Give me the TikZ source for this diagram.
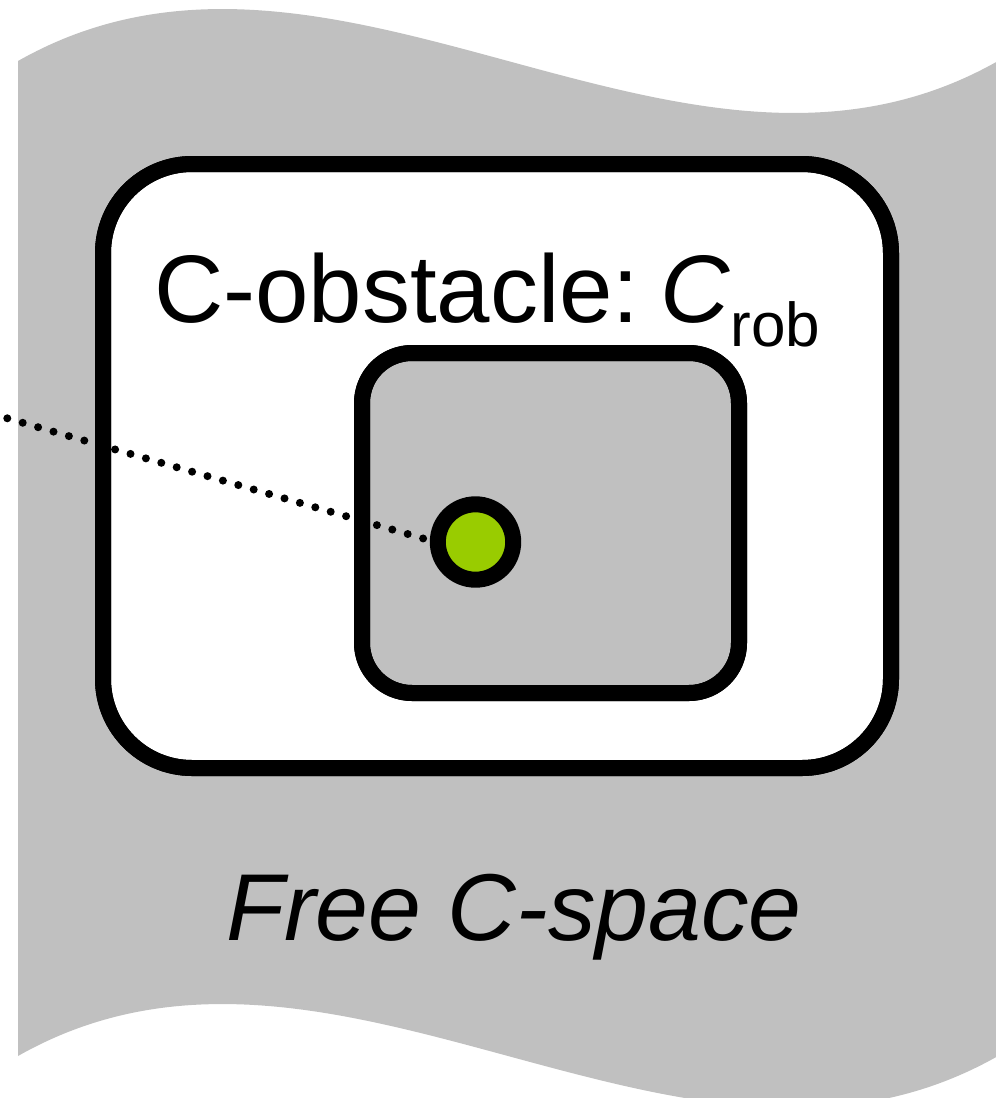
\documentclass[tikz,border=0pt]{standalone}
\usepackage{fontspec}
\setmainfont{Liberation Sans}
\definecolor{bggray}{RGB}{192,192,192}
\definecolor{dotgreen}{RGB}{153,204,0}
\begin{document}
\begin{tikzpicture}[x=1pt,y=-1pt,
  region/.style={draw=black, line width=16pt, rounded corners=#1, inner sep=0pt, outer sep=0pt},
  dotline/.style={line width=8pt, line cap=round, dash pattern=on 0pt off 16.03pt},
  label/.style={inner sep=0pt, outer sep=0pt, text=black}]
\useasboundingbox (0,0) rectangle (996,1098);
% free C-space background (wavy sheet)
\fill[bggray] (18,61) .. controls (335,-119) and (681,241) .. (998,61)
  -- (998,1056) .. controls (681,1236) and (335,876) .. (18,1056) -- cycle;
% C-obstacle region and robot region
\node[region=89pt, fill=white, minimum width=788pt, minimum height=604pt] (cobs) at (497,466) {};
\node[region=50pt, fill=bggray, minimum width=377pt, minimum height=340pt] (crob) at (550.5,523) {};
% dotted connector
\coordinate (dstart) at (-8.1,413.85);
\coordinate (dend) at (475.5,553.6);
\draw[dotline] (dstart) -- (dend);
\node[region=89pt, minimum width=788pt, minimum height=604pt] at (cobs) {};
\node[region=50pt, minimum width=377pt, minimum height=340pt] at (crob) {};
% configuration point
\node[circle, draw=black, line width=16pt, fill=dotgreen, minimum size=75.4pt, inner sep=0pt] (q) at (475.5,542) {};
% labels
\node[label, anchor=base west] (t1) at (154,322)
  {\fontsize{96}{110}\selectfont C-obstacle:\hspace{0.22em}\textit{C}\raisebox{-24pt}{\fontsize{62}{70}\selectfont rob}};
\node[label, anchor=base] (t2) at (514,940)
  {\fontsize{95}{110}\selectfont\itshape Free C-space};
\end{tikzpicture}
\end{document}
